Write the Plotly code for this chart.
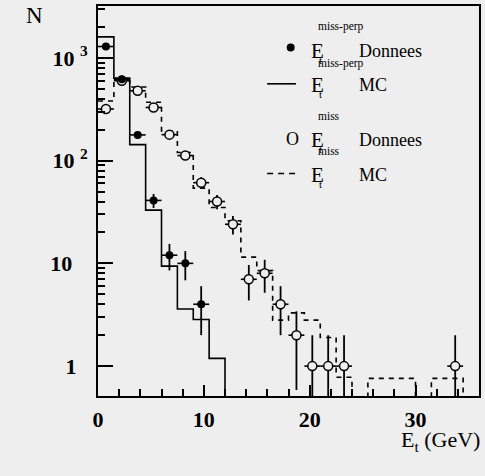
import math
import plotly.graph_objects as go

# bin edges (GeV), 1.5 GeV bins
bin_edges = [0, 1.5, 3, 4.5, 6, 7.5, 9, 10.5, 12, 13.5, 15, 16.5, 18, 19.5,
             21, 22.5, 24, 25.5, 27, 28.5, 30, 31.5, 33, 34.5, 36]

# Et miss-perp : data (filled) and MC (solid)
perp_data_x = [0.75, 2.25, 3.75, 5.25, 6.75, 8.25, 9.75]
perp_data_n = [1290, 620, 178, 41, 12, 10, 4]
perp_mc = [1600, 635, 143, 33, 9.4, 3.6, 2.84, 1.19, 0, 0, 0, 0,
           0, 0, 0, 0, 0, 0, 0, 0, 0, 0, 0, 0]

# Et miss : data (open) and MC (dashed)
miss_data_x = [0.75, 2.25, 3.75, 5.25, 6.75, 8.25, 9.75, 11.25, 12.75,
               14.25, 15.75, 17.25, 18.75, 20.25, 21.75, 23.25, 33.75]
miss_data_n = [318, 600, 478, 329, 179, 112, 61, 40, 24, 7, 8, 4, 2, 1, 1, 1, 1]
miss_mc = [380, 600, 520, 370, 195, 120, 54, 35, 26, 11.5, 8.5, 2.8,
           3.3, 2.8, 1.9, 0.78, 0, 0.76, 0.76, 0.76, 0, 0.76, 0.76, 0]

y_tickvals = [1, 10, 100, 1000]
y_ticktext = ["1\u00a0\u00a0", "10\u00a0\u00a0\u2009", "10 <sup>2</sup>", "10 <sup>3</sup>"]
y_minor = [2, 3, 4, 5, 6, 7, 8, 9, 20, 30, 40, 50, 60, 70, 80, 90,
           200, 300, 400, 500, 600, 700, 800, 900, 2000, 3000]
x_tickvals = [0, 10, 20, 30]

BG = '#eeeeee'
SERIF = 'Liberation Serif'
FLOOR = 1e-2  # empty bins drawn below the axis

# figure / plot-area geometry in pixels (used for the hand-made legend)
L, R, T, B = 98, 4, 5, 80
PW, PH = 485 - L - R, 476 - T - B


def px(x):
    return (x - L) / PW


def py(y):
    return (T + PH - y) / PH


def step(values):
    ys = [v if v > 0 else FLOOR for v in values]
    return bin_edges, ys + [ys[-1]]


fig = go.Figure()

hx, hy = step(miss_mc)
fig.add_trace(go.Scatter(x=hx, y=hy, mode='lines', line_shape='hv',
                         line=dict(color='black', width=1.6, dash='5px,5px'),
                         showlegend=False, hoverinfo='skip'))

hx, hy = step(perp_mc)
fig.add_trace(go.Scatter(x=hx, y=hy, mode='lines', line_shape='hv',
                         line=dict(color='black', width=1.6),
                         showlegend=False, hoverinfo='skip'))

fig.add_trace(go.Scatter(
    x=miss_data_x, y=miss_data_n, mode='markers',
    marker=dict(symbol='circle', size=9, color=BG, line=dict(color='black', width=1.5)),
    error_x=dict(type='constant', value=0.75, width=0, thickness=1.6, color='black'),
    error_y=dict(type='data', array=[math.sqrt(n) for n in miss_data_n],
                 arrayminus=[min(math.sqrt(n), n * 0.999) for n in miss_data_n],
                 width=0, thickness=1.8, color='black'),
    showlegend=False))

fig.add_trace(go.Scatter(
    x=perp_data_x, y=perp_data_n, mode='markers',
    marker=dict(symbol='circle', size=8, color='black'),
    error_x=dict(type='constant', value=0.75, width=0, thickness=1.6, color='black'),
    error_y=dict(type='data', array=[math.sqrt(n) for n in perp_data_n],
                 arrayminus=[min(math.sqrt(n), n * 0.999) for n in perp_data_n],
                 width=0, thickness=1.8, color='black'),
    showlegend=False))

# hand-made legend (stacked super/subscripts)
shapes = [
    dict(type='circle', xref='paper', yref='paper', x0=px(287.7), x1=px(295.7),
         y0=py(50.7), y1=py(42.7), fillcolor='black', line=dict(width=0)),
    dict(type='line', xref='paper', yref='paper', x0=px(268), x1=px(297),
         y0=py(83), y1=py(83), line=dict(color='black', width=1.6)),
    dict(type='line', xref='paper', yref='paper', x0=px(268), x1=px(298),
         y0=py(173), y1=py(173), line=dict(color='black', width=1.6, dash='6px,5px')),
]

ann = []


def text(x, y, s, size, anchor='left'):
    ann.append(dict(xref='paper', yref='paper', x=px(x), y=py(y), text=s,
                    showarrow=False, xanchor=anchor, yanchor='middle',
                    borderpad=0,
                    font=dict(family=SERIF, size=size, color='black')))


# (row centre, superscript offset, superscript, label)
rows = [(50, -24, 'miss-perp', 'Donnees'), (84, -21, 'miss-perp', 'MC'),
        (139, -24, 'miss', 'Donnees'), (174, -24, 'miss', 'MC')]
for y, dy, sup, lab in rows:
    text(311, y, 'E', 21)
    text(318, y + dy, sup, 11.5)
    text(319, y + 9, 't', 11)
    text(359, y, lab, 18)
text(293.5, 138, 'O', 18, 'center')

text(34, 15, 'N', 23, 'center')
ann.append(dict(xref='paper', yref='paper', x=px(484), y=py(441),
                text='E<sub>t</sub> (GeV)', showarrow=False,
                xanchor='right', yanchor='middle',
                font=dict(family=SERIF, size=22, color='black')))

fig.update_layout(
    width=485, height=476,
    margin=dict(l=L, r=R, t=T, b=B),
    paper_bgcolor=BG, plot_bgcolor=BG,
    font=dict(family=SERIF, color='black'),
    showlegend=False,
    shapes=shapes, annotations=ann,
    xaxis=dict(range=[0, 36], tickmode='array', tickvals=x_tickvals,
               ticks='inside', ticklen=11, tickwidth=1.5, tickcolor='black',
               minor=dict(ticks='inside', ticklen=7, tickwidth=1.5, dtick=2, tickcolor='black'),
               showgrid=False, zeroline=False,
               showline=True, linewidth=2, linecolor='black', mirror=True,
               tickfont=dict(family=SERIF, size=22, weight='bold'),
               ticklabelstandoff=3),
    yaxis=dict(type='log', range=[-0.291, 3.505], tickmode='array',
               tickvals=y_tickvals, ticktext=y_ticktext,
               ticks='inside', ticklen=15, tickwidth=1.5, tickcolor='black',
               minor=dict(ticks='inside', ticklen=7, tickwidth=1.5,
                          tickmode='array', tickvals=y_minor, tickcolor='black'),
               showgrid=False, zeroline=False,
               showline=True, linewidth=2, linecolor='black', mirror=True,
               tickfont=dict(family=SERIF, size=22, weight='bold'),
               ticklabelstandoff=4),
)

# the page body has a default 8px margin; drop it so the figure fills the window
fig.write_html("out.html", config={'displayModeBar': False},
               post_script="document.body.style.margin='0';")
